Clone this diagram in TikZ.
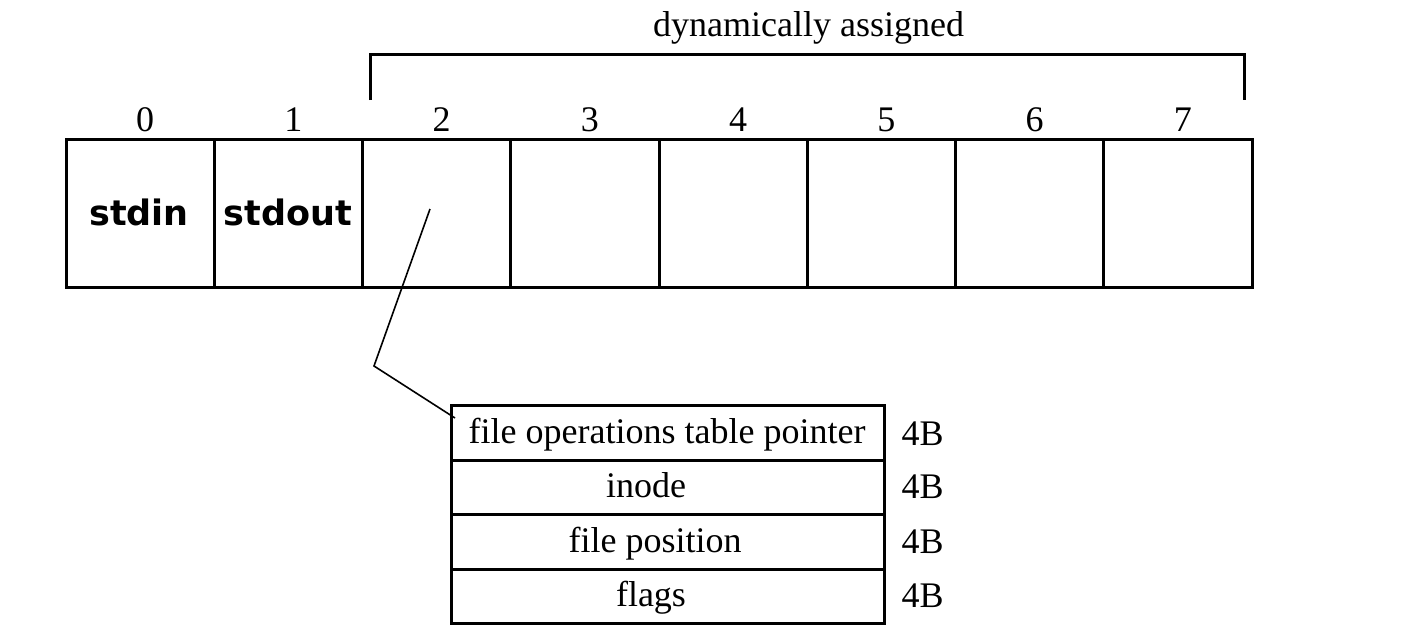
\documentclass[tikz,border=0pt]{standalone}
\usepackage{fontspec}
\setmainfont{Liberation Serif}
\newfontfamily\vsans{DejaVu Sans}
\begin{document}
\begin{tikzpicture}[x=1pt,y=-1pt,
  cellbox/.style={draw, line width=3pt, minimum width=148.25pt, minimum height=148pt, inner sep=0pt, outer sep=0pt},
  rowbox/.style={draw, line width=2.8pt, minimum width=433pt, minimum height=54.5pt, inner sep=0pt, outer sep=0pt},
  serif/.style={font=\fontsize{36}{43}\selectfont, inner sep=0pt, anchor=base},
  bold/.style={font=\vsans\bfseries\fontsize{35}{42}\selectfont, inner sep=0pt},
  conn/.style={line width=1.6pt},
  brack/.style={line width=3pt}]
\useasboundingbox (0,0) rectangle (1403,643);
% cells
\foreach \i in {0,...,7} {
  \node[cellbox] (c\i) at ({66+148.25*(\i+0.5)},213) {};
  \node[serif] (n\i) at ({66+148.25*(\i+0.5)+5},131.7) {\i};
}
\node[bold] (stdin) at (139,212) {stdin};
\node[bold] (stdout) at (288,212) {stdout};
% bracket
\coordinate (b1) at (370,100);
\coordinate (b2) at (370,54);
\coordinate (b3) at (1244,54);
\coordinate (b4) at (1244,100);
\draw[brack] (b1) -- (b2) -- (b3) -- (b4);
\node[serif] (dyn) at (808.5,36.7) {dynamically assigned};
% struct
\node[rowbox] (r1) at (668,433) {};
\node[rowbox] (r2) at (668,487.5) {};
\node[rowbox] (r3) at (668,542) {};
\node[rowbox] (r4) at (668,596.5) {};
\node[serif] (t1) at (667,443) {file operations table pointer};
\node[serif] (t2) at (646,497.5) {inode};
\node[serif] (t3) at (655,552) {file position};
\node[serif] (t4) at (651,606) {flags};
\foreach \k/\y in {1/445,2/498,3/553,4/607} {
  \node[serif] (s\k) at (922.5,\y) {4B};
}
% connector
\coordinate (p0) at (430,209);
\coordinate (p1) at (374,366);
\coordinate (p2) at (455,418);
\draw[conn] (p0) -- (p1) -- (p2);
\end{tikzpicture}
\end{document}
